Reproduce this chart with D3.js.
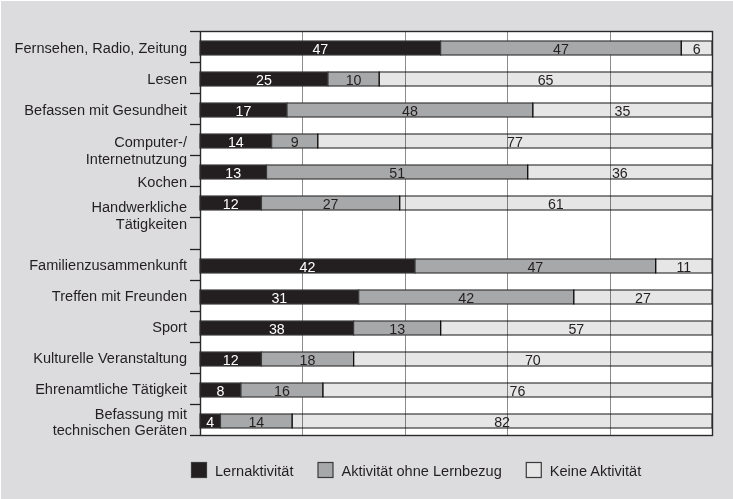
<!DOCTYPE html>
<html>
<head>
<meta charset="utf-8">
<script src="https://cdn.jsdelivr.net/npm/d3@7"></script>
<style>
  html, body { margin: 0; padding: 0; background: #dcdcde; }
  svg { display: block; }
  text { font-family: "Liberation Sans", Arial, sans-serif; fill: #231f20; }
</style>
</head>
<body>
<svg id="chart" width="733" height="499"></svg>
<script>
// categories, top to bottom (a blank slot sits between the two groups)
const categoriesTop = ['Fernsehen, Radio, Zeitung', 'Lesen', 'Befassen mit Gesundheit', 'Computer-/\nInternetnutzung', 'Kochen', 'Handwerkliche\nTätigkeiten'];
const categoriesBottom = ['Familienzusammenkunft', 'Treffen mit Freunden', 'Sport', 'Kulturelle Veranstaltung', 'Ehrenamtliche Tätigkeit', 'Befassung mit\ntechnischen Geräten'];

// bar lengths as drawn (percent)
const lernaktivitaet = [47, 25, 17, 14, 13, 12, 42, 31, 30, 12, 8, 4];
const ohneLernbezug = [47, 10, 48, 9, 51, 27, 47, 42, 17, 18, 16, 14];
const keineAktivitaet = [6, 65, 35, 77, 36, 61, 11, 27, 53, 70, 76, 82];

// numbers printed in the bars (Sport is printed differently from its drawn length)
const lernLabels = [47, 25, 17, 14, 13, 12, 42, 31, 38, 12, 8, 4];
const ohneLabels = [47, 10, 48, 9, 51, 27, 47, 42, 13, 18, 16, 14];
const keineLabels = [6, 65, 35, 77, 36, 61, 11, 27, 57, 70, 76, 82];

const seriesNames = ['Lernaktivität', 'Aktivität ohne Lernbezug', 'Keine Aktivität'];
const xTicks = [20, 40, 60, 80];

const colours = ['#231f20', '#a7a8aa', '#e6e6e6'];
const textColours = ['#ffffff', '#231f20', '#231f20'];

const svg = d3.select('#chart');
const margin = { top: 31, right: 21, bottom: 64, left: 200 };
const width = 733 - margin.left - margin.right;
const height = 499 - margin.top - margin.bottom;

const gap = '__gap';
const categories = [...categoriesTop, ...categoriesBottom];
const slots = [...categoriesTop, gap, ...categoriesBottom];

const x = d3.scaleLinear().domain([0, 100]).range([0, width]);
const y = d3.scaleBand().domain(slots).range([0, height]);

// small label nudges to follow the original typesetting
const labelNudge = { 'Computer-/\nInternetnutzung': 1, 'Kochen': 10, 'Handwerkliche\nTätigkeiten': 4, 'Befassung mit\ntechnischen Geräten': -7 };
const squeeze = 0.94;

svg.append('rect').attr('width', 733).attr('height', 1).attr('fill', '#fff');
svg.append('rect').attr('width', 1).attr('height', 499).attr('fill', '#fff');

const g = svg.append('g').attr('transform', `translate(${margin.left},${margin.top})`);

g.append('rect').attr('width', width).attr('height', height).attr('fill', '#fff');

g.selectAll('line.grid')
  .data(xTicks)
  .join('line')
  .attr('class', 'grid')
  .attr('x1', d => Math.round(x(d)) + 0.5)
  .attr('x2', d => Math.round(x(d)) + 0.5)
  .attr('y1', 0)
  .attr('y2', height)
  .attr('stroke', '#8c8c8c')
  .attr('stroke-width', 1);

const rows = categories.map((name, i) => {
  const vals = [lernaktivitaet[i], ohneLernbezug[i], keineAktivitaet[i]];
  const labels = [lernLabels[i], ohneLabels[i], keineLabels[i]];
  let acc = 0;
  const segs = vals.map((v, k) => {
    const s = { name, k, x0: acc, x1: acc + v, label: labels[k] };
    acc += v;
    return s;
  });
  return { name, segs };
});

const barOffset = 10;
const barHeight = 14;

const rowG = g.selectAll('g.row')
  .data(rows)
  .join('g')
  .attr('class', 'row')
  .attr('transform', d => `translate(0,${Math.round(y(d.name)) + barOffset})`);

rowG.selectAll('rect')
  .data(d => d.segs)
  .join('rect')
  .attr('x', d => x(d.x0))
  .attr('y', 0)
  .attr('width', d => x(d.x1) - x(d.x0))
  .attr('height', barHeight)
  .attr('fill', d => colours[d.k])
  .attr('stroke', '#3a3a3a')
  .attr('stroke-width', 1.2)
  .style('mix-blend-mode', d => d.k === 2 ? 'multiply' : null);

rowG.selectAll('text')
  .data(d => d.segs)
  .join('text')
  .attr('transform', d => `translate(${x((d.x0 + d.x1) / 2)},${barHeight / 2}) scale(0.92,1)`)
  .attr('dy', '0.37em')
  .attr('text-anchor', 'middle')
  .style('font-size', '15.5px')
  .style('fill', d => textColours[d.k])
  .text(d => d.label);

// frame and tick marks
const boundaries = d3.range(slots.length + 1).map(i => i * y.step());
g.selectAll('line.tick')
  .data(boundaries)
  .join('line')
  .attr('class', 'tick')
  .attr('x1', -10)
  .attr('x2', 0)
  .attr('y1', d => Math.round(d) + 0.5)
  .attr('y2', d => Math.round(d) + 0.5)
  .attr('stroke', '#231f20')
  .attr('stroke-width', 1.3);

g.append('rect')
  .attr('x', 0.5)
  .attr('y', 0.5)
  .attr('width', width)
  .attr('height', height)
  .attr('fill', 'none')
  .attr('stroke', '#2a2a2a')
  .attr('stroke-width', 1.4);

// category labels
const lineGap = 17;
g.selectAll('text.cat')
  .data(categories)
  .join('text')
  .attr('class', 'cat')
  .attr('text-anchor', 'end')
  .attr('transform', d => `translate(-13,${y(d) + barOffset + barHeight / 2 - 1 + (labelNudge[d] || 0)}) scale(${squeeze},1)`)
  .style('font-size', '15.5px')
  .each(function(d) {
    d3.select(this).selectAll('tspan')
      .data(d.split('\n'))
      .join('tspan')
      .attr('x', 0)
      .attr('y', (t, i) => i * lineGap)
      .attr('dy', '0.36em')
      .text(t => t);
  });

// legend
const legend = svg.append('g').attr('transform', 'translate(191,462)');
let lx = 0;
seriesNames.forEach((name, k) => {
  legend.append('rect')
    .attr('x', lx + 0.5)
    .attr('y', 0.5)
    .attr('width', 15)
    .attr('height', 15)
    .attr('fill', colours[k])
    .attr('stroke', '#3a3a3a')
    .attr('stroke-width', 1.2);
  const t = legend.append('text')
    .attr('transform', `translate(${lx + 24},8) scale(${squeeze},1)`)
    .attr('dy', '0.36em')
    .style('font-size', '15.5px')
    .text(name);
  lx += 24 + t.node().getComputedTextLength() * squeeze + 24;
});
</script>
</body>
</html>
